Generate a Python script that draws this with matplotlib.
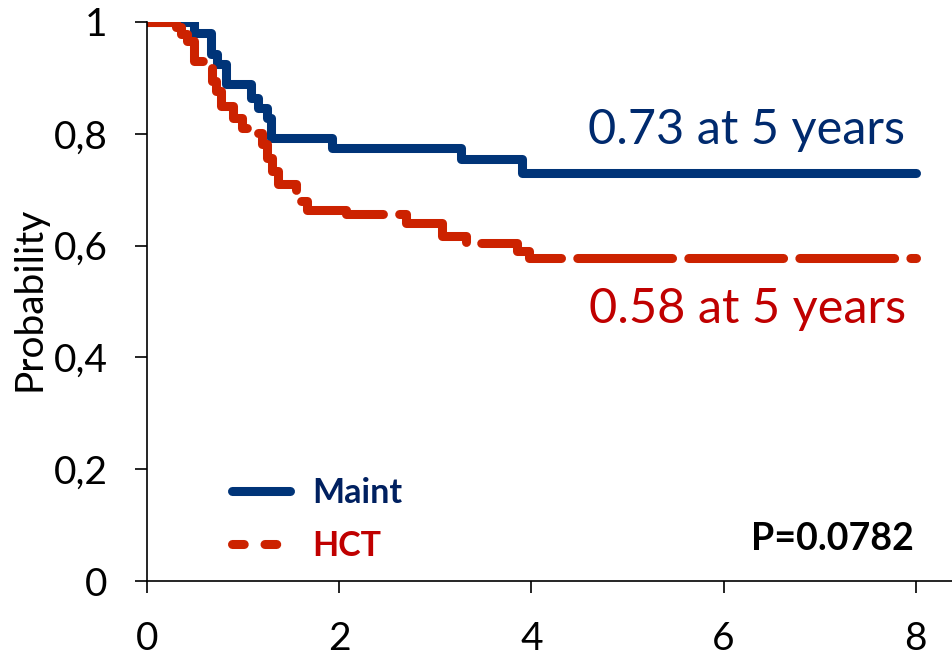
import matplotlib
matplotlib.use("Agg")
import matplotlib.pyplot as plt
from matplotlib.lines import Line2D

plt.rcParams["font.family"] = ["Lato", "DejaVu Sans"]

# Kaplan-Meier step data (years, survival probability)
maint_time = [0, 0.49, 0.67, 0.73, 0.82, 1.08, 1.15, 1.25, 1.29, 1.92, 3.27, 3.90, 8.0]
maint_surv = [1.0, 0.980, 0.943, 0.925, 0.889, 0.864, 0.846, 0.829, 0.793, 0.775, 0.755, 0.730, 0.730]

hct_time = [0, 0.30, 0.35, 0.42, 0.49, 0.63, 0.68, 0.72, 0.77, 0.89, 0.99, 1.09, 1.20,
            1.25, 1.30, 1.36, 1.55, 1.60, 1.66, 2.07, 2.70, 3.07, 3.32, 3.85, 3.98, 8.0]
hct_surv = [1.0, 0.991, 0.979, 0.966, 0.930, 0.918, 0.895, 0.877, 0.850, 0.829, 0.811, 0.802, 0.782,
            0.757, 0.734, 0.710, 0.698, 0.680, 0.663, 0.656, 0.641, 0.618, 0.605, 0.591, 0.578, 0.578]

x_ticks = [0, 2, 4, 6, 8]
y_ticks = [0, 0.2, 0.4, 0.6, 0.8, 1]
y_tick_labels = ["0", "0,2", "0,4", "0,6", "0,8", "1"]

maint_note = "0.73 at 5 years"
hct_note = "0.58 at 5 years"
p_value = "P=0.0782"

blue = "#003478"
red = "#cc2200"

W, H = 952, 656
fig = plt.figure(figsize=(W / 100, H / 100), dpi=100)
ax = fig.add_axes([147 / W, 1 - 581 / H, (W - 147) / W, (581 - 22) / H])

ax.plot(maint_time, maint_surv, drawstyle="steps-post", color=blue, lw=6.5,
        solid_capstyle="round", solid_joinstyle="round")
ax.plot(hct_time, hct_surv, drawstyle="steps-post", color=red, lw=6.5,
        dashes=(10.5, 1.8), dash_capstyle="round", dash_joinstyle="round")

ax.set_xlim(0, (W - 147) / 96.1)
ax.set_ylim(0, 1)
ax.set_xticks(x_ticks)
ax.set_xticklabels([str(t) for t in x_ticks])
ax.set_yticks(y_ticks)
ax.set_yticklabels(y_tick_labels)
ax.tick_params(axis="both", direction="out", length=8.5, width=1.2, labelsize=28, pad=20)
for side in ["top", "right"]:
    ax.spines[side].set_visible(False)
for side in ["left", "bottom"]:
    ax.spines[side].set_linewidth(1.2)
ax.set_ylabel("Probability", fontsize=28)
ax.yaxis.set_label_coords(-0.123, 0.505)

ax.text(7.89, 0.782, maint_note, color="#002a6e", fontsize=35, ha="right", va="baseline")
ax.text(7.90, 0.461, hct_note, color="#c00000", fontsize=35, ha="right", va="baseline")
ax.text(7.98, 0.055, p_value, color="black", fontsize=27, fontweight="bold", ha="right", va="baseline")

handles = [
    Line2D([], [], color=blue, lw=6.5, solid_capstyle="round"),
    Line2D([], [], color=red, lw=6.5, dashes=(1.3, 2.3), dash_capstyle="round"),
]
leg = ax.legend(handles, ["Maint", "HCT"], loc="lower left", bbox_to_anchor=(0.106, 0.034),
                frameon=False, borderpad=0, borderaxespad=0,
                handlelength=1.7, handletextpad=0.65, labelspacing=0.62,
                prop={"size": 24.5, "weight": "bold"})
leg.get_texts()[0].set_color("#002060")
leg.get_texts()[1].set_color("#c00000")

fig.savefig("out.png", dpi=100)
